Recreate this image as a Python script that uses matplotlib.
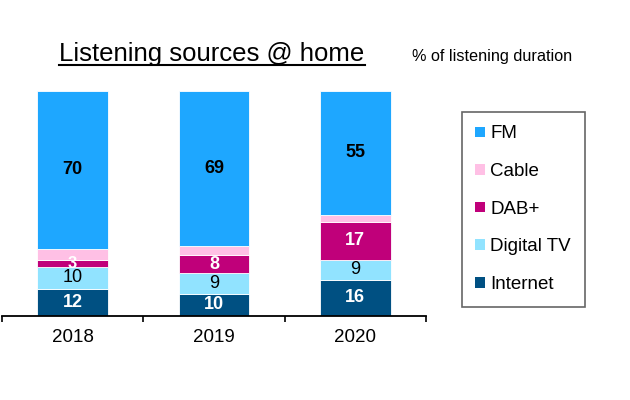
import matplotlib
matplotlib.use("Agg")
import matplotlib.pyplot as plt
from matplotlib.lines import Line2D
from matplotlib.patches import Patch
import numpy as np

plt.rcParams['font.family'] = ['Liberation Sans', 'DejaVu Sans']

years = ["2018", "2019", "2020"]
series = ["Internet", "Digital TV", "DAB+", "Cable", "FM"]
internet = [12, 10, 16]
digital_tv = [10, 9, 9]
dab = [3, 8, 17]
cable = [5, 4, 3]
fm = [70, 69, 55]
values = [internet, digital_tv, dab, cable, fm]
colors = ["#005082", "#91E3FF", "#C0007A", "#FFC0E5", "#1EA7FF"]
label_colors = ["white", "black", "white", None, "black"]
label_weights = ["bold", "normal", "bold", None, "bold"]

W, H = 630, 400
fig = plt.figure(figsize=(6.3, 4.0), dpi=100)
ax = fig.add_axes([2 / W, 1 - 316 / H, (426 - 2) / W, (316 - 91) / H])

x = np.arange(len(years))
bottom = np.zeros(len(years))
for vals, col, lc, lw in zip(values, colors, label_colors, label_weights):
    vals = np.array(vals, dtype=float)
    ax.bar(x, vals, width=0.5, bottom=bottom, color=col, edgecolor="white", linewidth=0.6)
    if lc is not None:
        for xi, b, v in zip(x, bottom, vals):
            ax.text(xi, b + v / 2, f"{int(v)}", ha="center", va="center",
                    color=lc, fontsize=13 if v >= 5 else 12, fontweight=lw)
    bottom += vals

ax.set_xlim(-0.5, 2.5)
ax.set_ylim(0, 100)
for s in ["top", "right", "left"]:
    ax.spines[s].set_visible(False)
ax.spines["bottom"].set_linewidth(1.3)
ax.set_yticks([])
ax.set_xticks([-0.5, 0.5, 1.5, 2.5])
ax.set_xticklabels([])
ax.tick_params(axis="x", which="major", length=4, width=1.2, direction="out")
ax.set_xticks(x, minor=True)
ax.set_xticklabels(years, minor=True, fontsize=13.5)
ax.tick_params(axis="x", which="minor", length=0, pad=9)

# Title with underline
t = fig.text(212 / W, 1 - 54 / H, "Listening sources @ home", ha="center", va="center",
             fontsize=18.5)
fig.text(492 / W, 1 - 57 / H, "% of listening duration", ha="center", va="center",
         fontsize=11.7)
fig.canvas.draw()
bb = t.get_window_extent()
uy = (bb.y0 + 1) / (H)
fig.add_artist(Line2D([bb.x0 / W, bb.x1 / W], [uy, uy], color="black", lw=1.5,
                      transform=fig.transFigure))

handles = [Patch(facecolor=c, edgecolor="none") for c in colors[::-1]]
leg = fig.legend(handles, series[::-1], loc="upper left",
                 bbox_to_anchor=(462 / W, 1 - 112 / H), bbox_transform=fig.transFigure,
                 fontsize=13.5, frameon=True, fancybox=False, edgecolor="#404040",
                 handlelength=0.5, handleheight=0.5, handletextpad=0.3,
                 labelspacing=1.1, borderpad=0.72, borderaxespad=0)
leg.get_frame().set_linewidth(1.2)

fig.savefig("out.png", dpi=100)
